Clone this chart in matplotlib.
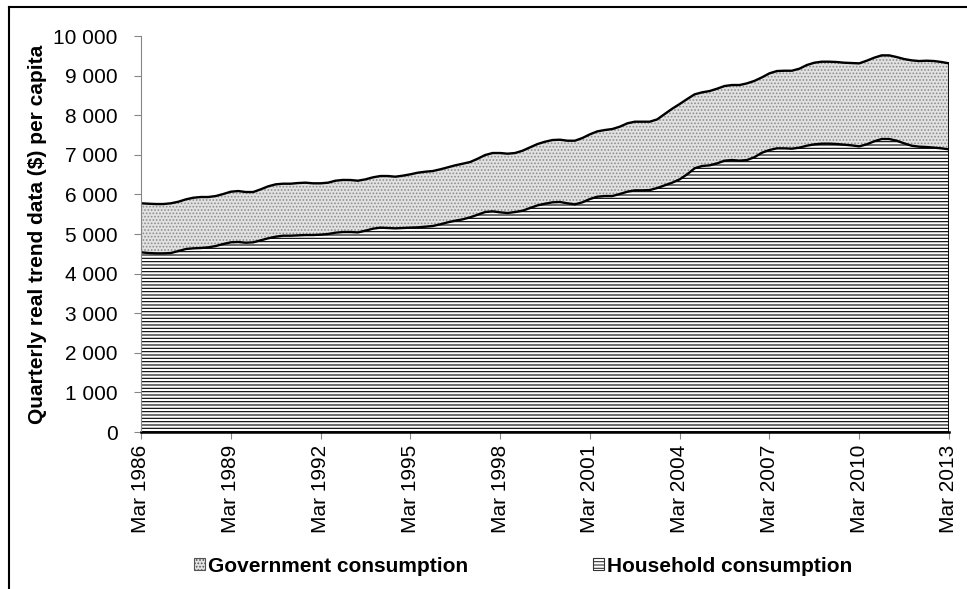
import matplotlib.pyplot as plt
from matplotlib.patches import Patch
from matplotlib.lines import Line2D

plt.rcParams['font.family'] = ['Liberation Sans', 'DejaVu Sans']
plt.rcParams['hatch.linewidth'] = 0.8

# quarterly, Mar 1986 .. Mar 2013
years = list(range(1986, 2014, 3))
tick_labels = ["Mar %d" % y for y in years]

household = [4537, 4520, 4511, 4511, 4520, 4570, 4621, 4638, 4646, 4663,
             4697, 4747, 4790, 4798, 4780, 4790, 4840, 4891, 4932, 4957,
             4957, 4966, 4974, 4974, 4983, 5000, 5033, 5050, 5050, 5041,
             5084, 5134, 5160, 5151, 5143, 5151, 5160, 5168, 5185, 5202,
             5244, 5295, 5336, 5370, 5421, 5487, 5555, 5572, 5547, 5530,
             5555, 5588, 5656, 5723, 5765, 5800, 5808, 5775, 5749, 5800,
             5883, 5942, 5959, 5959, 6010, 6068, 6102, 6102, 6110, 6161,
             6229, 6296, 6380, 6507, 6659, 6717, 6734, 6784, 6851, 6868,
             6851, 6868, 6940, 7053, 7121, 7163, 7163, 7154, 7180, 7230,
             7264, 7281, 7281, 7272, 7255, 7238, 7213, 7264, 7340, 7398,
             7398, 7356, 7289, 7230, 7205, 7196, 7180, 7163, 7138]

government = [1238, 1245, 1246, 1246, 1255, 1245, 1254, 1278, 1288, 1271,
              1262, 1263, 1278, 1287, 1280, 1270, 1288, 1313, 1322, 1313,
              1313, 1321, 1322, 1306, 1297, 1296, 1313, 1315, 1313, 1305,
              1296, 1297, 1304, 1313, 1304, 1322, 1347, 1380, 1388, 1388,
              1389, 1388, 1398, 1405, 1397, 1414, 1439, 1473, 1498, 1498,
              1490, 1515, 1532, 1549, 1565, 1573, 1573, 1581, 1607, 1624,
              1634, 1650, 1667, 1692, 1700, 1726, 1734, 1734, 1726, 1734,
              1801, 1868, 1902, 1901, 1868, 1860, 1876, 1885, 1886, 1894,
              1911, 1936, 1927, 1903, 1936, 1952, 1960, 1969, 1994, 2037,
              2061, 2070, 2070, 2071, 2070, 2079, 2096, 2112, 2112, 2113,
              2113, 2113, 2129, 2155, 2163, 2180, 2188, 2180, 2171]

n = len(household)
x = list(range(n))
total = [h + g for h, g in zip(household, government)]

fig = plt.figure(figsize=(9.67, 5.89), dpi=100)
ax = fig.add_axes([141/967, 1 - 432/589, (949 - 141)/967, (432 - 36)/589])

ax.fill_between(x, 0, household, facecolor='white', edgecolor='black',
                hatch='-----', linewidth=0)
ax.fill_between(x, household, total, facecolor='#e2e2e2', edgecolor='#8c8c8c',
                hatch='.....', linewidth=0)
ax.plot(x, household, color='black', lw=1.7, solid_joinstyle='round')
ax.plot(x, total, color='black', lw=1.7, solid_joinstyle='round')
ax.plot([x[-1], x[-1]], [0, total[-1]], color='black', lw=1.3)
ax.plot([0, x[-1]], [0, 0], color='black', lw=1.8, clip_on=False)

ax.set_xlim(0, n - 1)
ax.set_ylim(0, 10000)
ax.set_yticks(range(0, 10001, 1000))
ax.set_yticklabels(["{:,}".format(v).replace(",", " ") for v in range(0, 10001, 1000)])
ax.set_xticks(range(0, n, 12))
ax.set_xticklabels(tick_labels, rotation=90)

for s in ['top', 'right']:
    ax.spines[s].set_visible(False)
ax.spines['left'].set_color('#868686')
ax.spines['bottom'].set_color('black')
ax.tick_params(axis='y', colors='#868686', labelcolor='black', length=5,
               labelsize=15, pad=12)
ax.tick_params(axis='x', colors='#868686', labelcolor='black', length=5,
               labelsize=15, pad=4)
ax.set_ylabel("Quarterly real trend data ($) per capita", fontsize=15,
              fontweight='bold', labelpad=4)

handles = [Patch(facecolor='#e2e2e2', edgecolor='#555555', hatch='.....', lw=0.8),
           Patch(facecolor='white', edgecolor='#333333', hatch='-----', lw=0.8)]
fig.legend(handles, ["Government consumption", "Household consumption"],
           loc='center', bbox_to_anchor=(0.541, 1 - 566/589), ncol=2,
           frameon=False, handlelength=0.5, handleheight=0.5,
           handletextpad=0.15, columnspacing=6.0,
           prop={'size': 15, 'weight': 'bold'})

# chart frame (left and top edges visible)
fig.add_artist(Line2D([9/967, 9/967], [0, 1 - 7/589], color='black', lw=1.5))
fig.add_artist(Line2D([9/967, 1], [1 - 7/589, 1 - 7/589], color='black', lw=1.5))

fig.savefig("out.png", dpi=100)
